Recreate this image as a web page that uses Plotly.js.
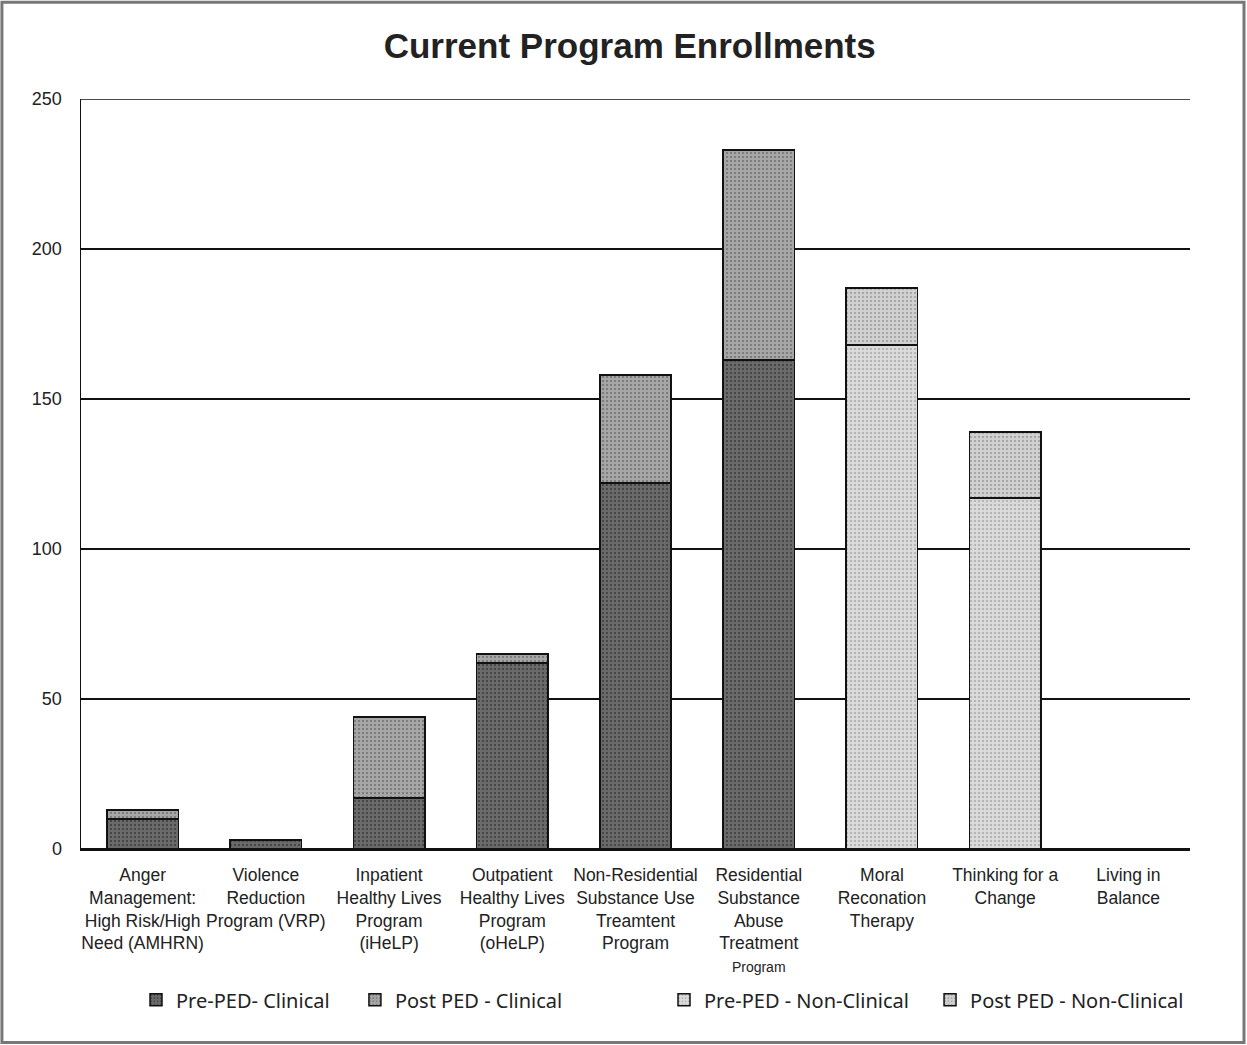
<!DOCTYPE html>
<html>
<head>
<meta charset="utf-8">
<script src="https://cdn.plot.ly/plotly-3.0.1.min.js"></script>
<style>html,body{margin:0;padding:0;background:#fff;}#chart{width:1247px;height:1045px;}</style>
</head>
<body>
<div id="chart"></div>
<script>
const categories = [
  "Anger<br>Management:<br>High Risk/High<br>Need (AMHRN)",
  "Violence<br>Reduction<br>Program (VRP)",
  "Inpatient<br>Healthy Lives<br>Program<br>(iHeLP)",
  "Outpatient<br>Healthy Lives<br>Program<br>(oHeLP)",
  "Non-Residential<br>Substance Use<br>Treamtent<br>Program",
  "Residential<br>Substance<br>Abuse<br>Treatment<br><span style='font-size:14px'>Program</span>",
  "Moral<br>Reconation<br>Therapy",
  "Thinking for a<br>Change",
  "Living in<br>Balance"
];
const prePedClinical     = [10, 3, 17, 62, 122, 163, 0, 0, 0];
const postPedClinical    = [3, 0, 27, 3, 36, 70, 0, 0, 0];
const prePedNonClinical  = [0, 0, 0, 0, 0, 0, 168, 117, 0];
const postPedNonClinical = [0, 0, 0, 0, 0, 0, 19, 22, 0];
const seriesNames = ["Pre-PED- Clinical", "Post PED - Clinical", "Pre-PED - Non-Clinical", "Post PED - Non-Clinical"];
const yTicks = [0, 50, 100, 150, 200, 250];

const colors = ["#6a6a6a", "#a6a6a6", "#dadada", "#d0d0d0"];
const speckle = ["#3a3a3a", "#6f6f6f", "#a8a8a8", "#9a9a9a"];
const legendIds = ["legend", "legend2", "legend3", "legend4"];
const seriesData = [prePedClinical, postPedClinical, prePedNonClinical, postPedNonClinical];

const traces = seriesData.map((vals, i) => ({
  type: "bar",
  name: seriesNames[i],
  x: categories,
  y: vals,
  legend: legendIds[i],
  showlegend: true,
  marker: {color: colors[i], line: {color: "#111", width: 1.5},
    pattern: {shape: ".", fgcolor: speckle[i], bgcolor: colors[i], size: 4, solidity: 0.2}},
  hoverinfo: "name+y"
}));

const narrow = "Liberation Sans, Arial, sans-serif";
const legendFont = {family: "Noto Sans, Open Sans, sans-serif", size: 20, color: "#222"};
const legendXs = [0.0496, 0.247, 0.5257, 0.7656];
const legendCfg = x => ({orientation: "h", x: x, y: -0.175, xanchor: "left", yanchor: "top",
  font: legendFont, bgcolor: "rgba(0,0,0,0)", itemwidth: 30, tracegroupgap: 0, visible: true});

const layout = {
  width: 1247, height: 1045,
  margin: {l: 81, r: 57, t: 99, b: 196},
  paper_bgcolor: "#fff", plot_bgcolor: "#fff",
  showlegend: true,
  barmode: "stack",
  bargap: 0.42,
  title: {text: "<b>Current Program Enrollments</b>", x: 0.505, xanchor: "center", y: 0.956, yanchor: "middle",
    font: {family: narrow, size: 35, color: "#222"}},
  font: {family: narrow, color: "#222"},
  xaxis: {
    type: "category", showgrid: false, showline: true, linecolor: "#111", linewidth: 2,
    ticks: "", ticklabelstandoff: 9, tickfont: {size: 17.5, family: narrow, color: "#222"},
    tickangle: 0, automargin: false, fixedrange: true
  },
  yaxis: {
    range: [0, 250], tickvals: yTicks, showgrid: true, gridcolor: "#111", gridwidth: 1.5,
    zeroline: true, zerolinecolor: "#111", zerolinewidth: 2,
    showline: true, linecolor: "#111", linewidth: 1.5,
    ticks: "", ticklabelstandoff: 14,
    tickfont: {size: 18, family: narrow, color: "#222"},
    automargin: false, fixedrange: true
  },
  legend: legendCfg(legendXs[0]),
  legend2: legendCfg(legendXs[1]),
  legend3: legendCfg(legendXs[2]),
  legend4: legendCfg(legendXs[3]),
  shapes: [
    {type: "rect", xref: "paper", yref: "paper", x0: -0.0713, x1: 1.0487, y0: -0.258, y1: 1.129,
      line: {color: "#777", width: 3}, fillcolor: "rgba(0,0,0,0)", layer: "below"},
    {type: "line", xref: "paper", yref: "y", x0: 0, x1: 1, y0: yTicks[yTicks.length - 1], y1: yTicks[yTicks.length - 1],
      line: {color: "#111", width: 1.5}}
  ]
};

Plotly.newPlot("chart", traces, layout, {displayModeBar: false, staticPlot: true});
</script>
</body>
</html>
